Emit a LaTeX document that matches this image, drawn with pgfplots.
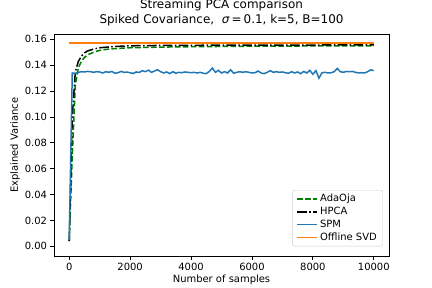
\documentclass[border=0pt]{standalone}
\usepackage{fontspec}
\setmainfont{DejaVu Sans}
\usepackage{pgfplots}
\pgfplotsset{compat=1.18}
\definecolor{mplblue}{HTML}{1F77B4}
\definecolor{mplorange}{HTML}{FF7F0E}
\definecolor{mplgreen}{HTML}{008000}
\begin{document}
\begin{tikzpicture}
\begin{axis}[
  at={(0,0)}, anchor=south west,
  scale only axis, width=335bp, height=222bp,
  xmin=-500, xmax=10500, ymin=-0.0077, ymax=0.1639,
  xtick={0,2000,4000,6000,8000,10000},
  ytick={0,0.02,0.04,0.06,0.08,0.1,0.12,0.14,0.16},
  scaled ticks=false,
  yticklabel style={/pgf/number format/.cd, fixed, fixed zerofill, precision=2},
  xticklabel style={/pgf/number format/1000 sep={}},
  /pgf/number format/assume math mode=true,
  tick align=outside, tick pos=left, major tick length=3.5bp,
  every tick/.style={black, line width=0.8bp},
  axis line style={line width=0.8bp},
  ticklabel style={font=\fontsize{10}{12}\selectfont},
  label style={font=\fontsize{10}{12}\selectfont},
  xlabel={Number of samples},
  ylabel={Explained Variance},
  xlabel style={yshift=3bp},
  ylabel style={yshift=-2bp},
  title={Streaming PCA comparison\\Spiked Covariance,\ \ \textit{σ}\,=\,0.1, k=5, B=100},
  title style={align=center, font=\fontsize{12}{15}\selectfont, at={(0.5,1)}, anchor=south, yshift=-1bp},
  legend style={at={(0.982,0.045)}, anchor=south east, draw=black!20, rounded corners=2bp,
    font=\fontsize{10}{12}\selectfont, inner xsep=4bp, inner ysep=2bp},
  legend cell align=left,
  legend image code/.code={\draw[#1] (0bp,0bp) -- (20bp,0bp);},
  every legend entry/.append style={text height=7.5bp, text depth=2.5bp, inner ysep=2.5bp},
]
\addplot[mplgreen, line width=1.5bp, dash pattern=on 5.55bp off 2.4bp] coordinates {
(0,0.004)(100,0.07)(200,0.125)(300,0.138)(400,0.143)(500,0.146)(600,0.148)(800,0.150)(1000,0.1515)(1300,0.1525)(1600,0.153)(2000,0.1535)(3000,0.154)(4000,0.1543)(5000,0.1545)(6000,0.1547)(7000,0.1548)(8000,0.1549)(9000,0.155)(10000,0.155)
};
\addlegendentry{AdaOja}
\addplot[black, line width=1.5bp, dash pattern=on 9.6bp off 2.4bp on 1.5bp off 2.4bp] coordinates {
(0,0.004)(100,0.10)(200,0.135)(300,0.143)(400,0.147)(500,0.1495)(600,0.151)(800,0.1525)(1000,0.1535)(1500,0.1545)(2000,0.155)(3000,0.1553)(5000,0.1555)(10000,0.1557)
};
\addlegendentry{HPCA}
\addplot[mplblue, line width=1.5bp] coordinates {
(0,0.005)(100,0.134)(200,0.1335)(300,0.1345)(400,0.1350)(500,0.1348)(600,0.1352)(700,0.1350)(800,0.1345)(900,0.1350)
(1000,0.1348)(1100,0.1340)(1200,0.1350)(1300,0.1345)(1400,0.1352)(1500,0.1338)(1600,0.1342)(1700,0.1352)(1800,0.1345)(1900,0.1347)
(2000,0.1342)(2100,0.1336)(2200,0.1348)(2300,0.1344)(2400,0.1358)(2500,0.1350)(2600,0.1362)(2700,0.1345)(2800,0.1355)(2900,0.1365)
(3000,0.1350)(3100,0.1340)(3200,0.1348)(3300,0.1335)(3400,0.1350)(3500,0.1338)(3600,0.1345)(3700,0.1342)(3800,0.1348)(3900,0.1345)
(4000,0.1342)(4100,0.1345)(4200,0.1340)(4300,0.1345)(4400,0.1338)(4500,0.1335)(4600,0.1352)(4700,0.1378)(4800,0.1345)(4900,0.1360)
(5000,0.1340)(5100,0.1350)(5200,0.1340)(5300,0.1365)(5400,0.1338)(5500,0.1345)(5600,0.1350)(5700,0.1345)(5800,0.1350)(5900,0.1345)
(6000,0.1340)(6100,0.1342)(6200,0.1355)(6300,0.1340)(6400,0.1335)(6500,0.1345)(6600,0.1358)(6700,0.1345)(6800,0.1350)(6900,0.1345)
(7000,0.1348)(7100,0.1342)(7200,0.1338)(7300,0.1350)(7400,0.1340)(7500,0.1348)(7600,0.1335)(7700,0.1352)(7800,0.1340)(7900,0.1360)
(8000,0.1330)(8100,0.1358)(8200,0.1300)(8300,0.1342)(8400,0.1345)(8500,0.1340)(8600,0.1342)(8700,0.1350)(8800,0.1375)(8900,0.1350)
(9000,0.1345)(9100,0.1352)(9200,0.1350)(9300,0.1352)(9400,0.1345)(9500,0.1340)(9600,0.1342)(9700,0.1340)(9800,0.1350)(9900,0.1365)
(10000,0.1358)
};
\addlegendentry{SPM}
\addplot[mplorange, line width=1.5bp] coordinates {(0,0.1572)(10000,0.1572)};
\addlegendentry{Offline SVD}
\end{axis}
\pgfresetboundingbox
\path[use as bounding box] (-54bp,-31.7bp) rectangle (378bp,256.3bp);
\end{tikzpicture}
\end{document}
